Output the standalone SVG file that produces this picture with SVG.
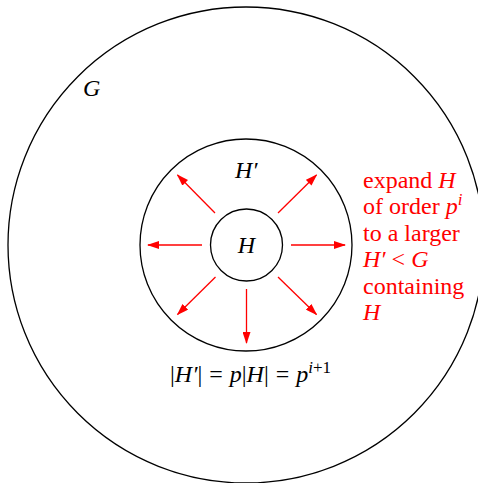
<svg xmlns="http://www.w3.org/2000/svg" width="478" height="483" viewBox="0 0 478 483">
<defs>
<marker id="ah" markerWidth="12" markerHeight="8" refX="11" refY="4" orient="auto" markerUnits="userSpaceOnUse">
<path d="M0,0 L12,4 L0,8 Z" fill="#ff0000"/>
</marker>
<style>
.c{fill:none;stroke:#000;stroke-width:1.3}
.a{stroke:#ff0000;stroke-width:1.3;marker-end:url(#ah)}
.t{font-family:"Liberation Serif","Times New Roman",serif;font-size:24px}
.i{font-style:italic}
.r{fill:#ff0000}
.s{font-size:17px}
</style>
</defs>
<rect width="478" height="483" fill="#fff"/>
<g id="G"><circle class="c" cx="246" cy="245" r="238"/><text class="t i" x="83" y="96">G</text></g>
<g id="Hprime"><circle class="c" cx="246" cy="245" r="106"/><text class="t i" x="235" y="178">H′</text></g>
<g id="H"><circle class="c" cx="246.5" cy="245" r="36"/><text class="t i" x="246.5" y="253" text-anchor="middle">H</text></g>
<g id="connectors">
<line class="a" x1="291" y1="245" x2="345" y2="245"/>
<line class="a" x1="202" y1="245" x2="148" y2="245"/>
<line class="a" x1="246.5" y1="289" x2="246.5" y2="343"/>
<line class="a" x1="215" y1="213" x2="177.5" y2="175"/>
<line class="a" x1="278" y1="213" x2="316.5" y2="175"/>
<line class="a" x1="215.5" y1="277" x2="177.5" y2="314.5"/>
<line class="a" x1="278" y1="277" x2="316.5" y2="314.5"/>
</g>
<g id="label" class="t r">
<text x="363" y="188">expand <tspan class="i">H</tspan></text>
<text x="363" y="214">of order <tspan class="i">p</tspan><tspan class="i s" dy="-9">i</tspan></text>
<text x="363" y="241">to a larger</text>
<text x="363" y="267"><tspan class="i">H′</tspan> &lt; <tspan class="i">G</tspan></text>
<text x="363" y="294">containing</text>
<text x="363" y="320" class="i">H</text>
</g>
<g id="formula"><text class="t" x="170" y="382">|<tspan class="i">H′</tspan>| <tspan dx="1">=</tspan> <tspan class="i" dx="1">p</tspan>|<tspan class="i">H</tspan>| <tspan dx="1">=</tspan> <tspan class="i" dx="1">p</tspan><tspan class="i s" dy="-9">i</tspan><tspan class="s">+1</tspan></text></g>
</svg>
